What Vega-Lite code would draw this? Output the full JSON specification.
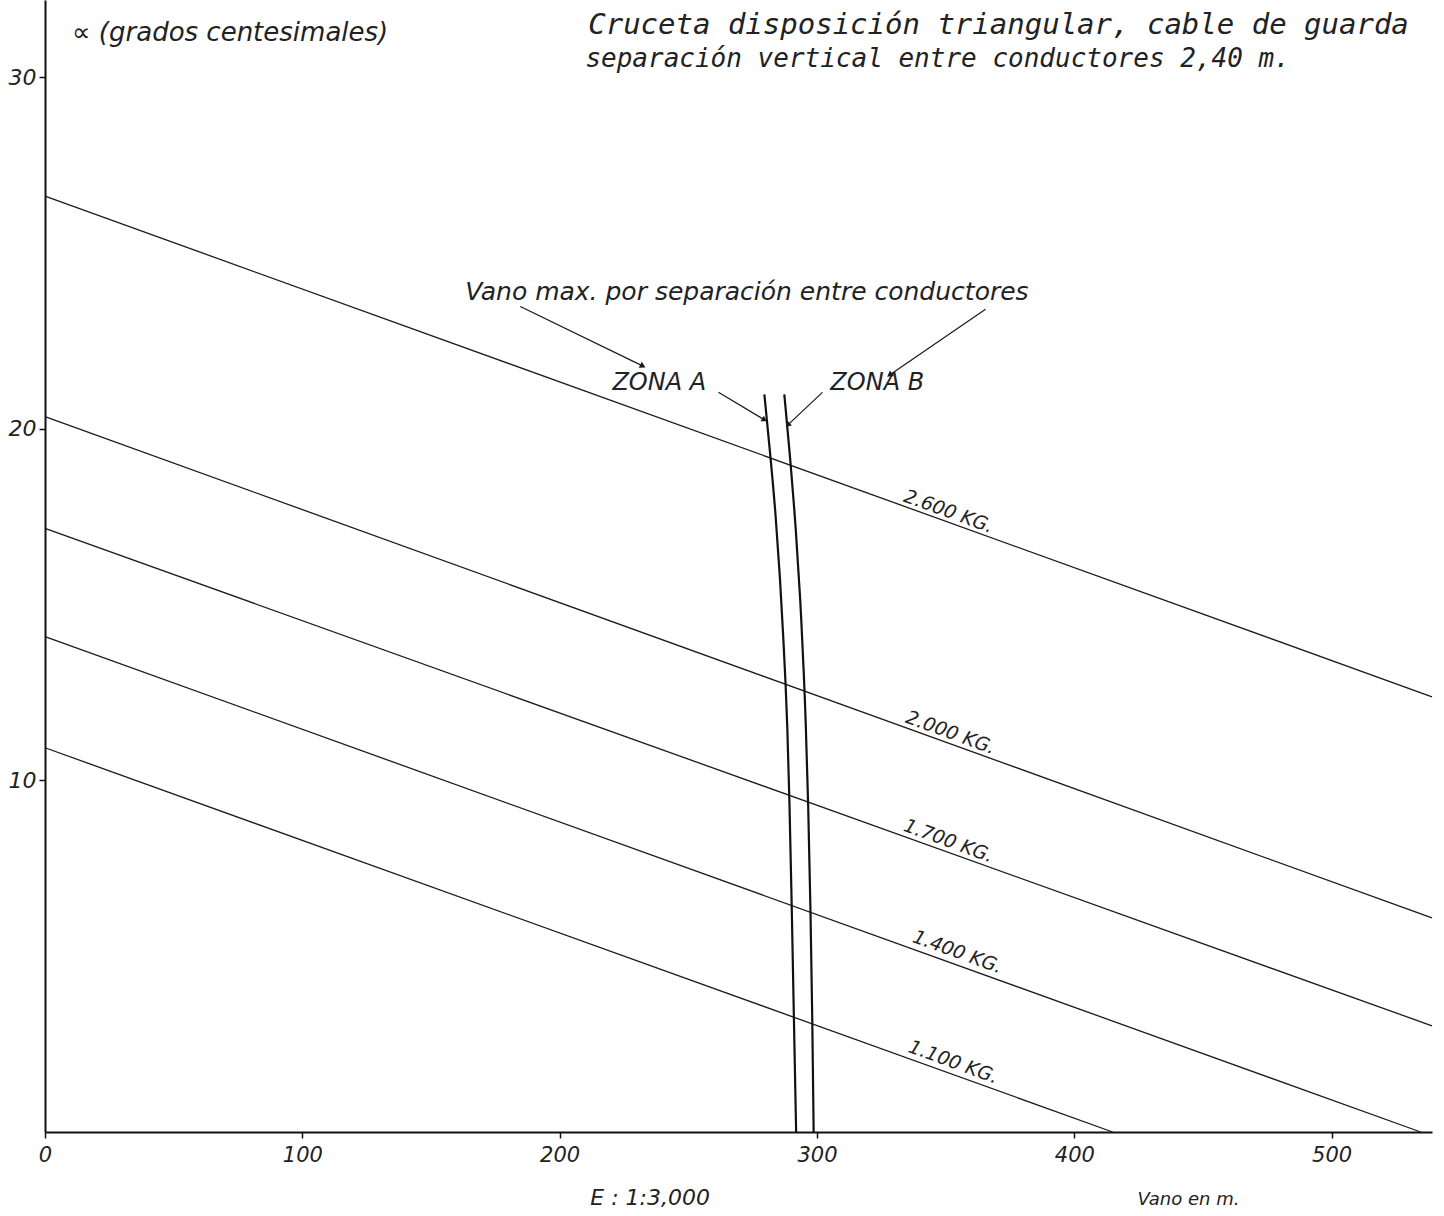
{
  "$schema": "https://vega.github.io/schema/vega-lite/v6.json",
  "width": 1387,
  "height": 1132,
  "autosize": {"type": "none"},
  "padding": {"left": 45, "top": 0, "right": 12, "bottom": 84},
  "background": "white",
  "config": {"view": {"stroke": null}, "font": "DejaVu Sans"},
  "datasets": {
    "curves": [
      {"s": "2600", "k": "kg", "o": 0, "x": 0, "a": 26.62},
      {"s": "2600", "k": "kg", "o": 1, "x": 539, "a": 12.38},
      {"s": "2000", "k": "kg", "o": 0, "x": 0, "a": 20.35},
      {"s": "2000", "k": "kg", "o": 1, "x": 539, "a": 6.09},
      {"s": "1700", "k": "kg", "o": 0, "x": 0, "a": 17.17},
      {"s": "1700", "k": "kg", "o": 1, "x": 539, "a": 3.02},
      {"s": "1400", "k": "kg", "o": 0, "x": 0, "a": 14.09},
      {"s": "1400", "k": "kg", "o": 1, "x": 534.6, "a": 0},
      {"s": "1100", "k": "kg", "o": 0, "x": 0, "a": 10.93},
      {"s": "1100", "k": "kg", "o": 1, "x": 414.9, "a": 0},
      {"s": "A", "k": "zona", "o": 0, "x": 279.55, "a": 20.98},
      {"s": "A", "k": "zona", "o": 1, "x": 282.0, "a": 19.16},
      {"s": "A", "k": "zona", "o": 2, "x": 283.9, "a": 17.62},
      {"s": "A", "k": "zona", "o": 3, "x": 285.7, "a": 15.71},
      {"s": "A", "k": "zona", "o": 4, "x": 287.1, "a": 13.81},
      {"s": "A", "k": "zona", "o": 5, "x": 287.8, "a": 12.75},
      {"s": "A", "k": "zona", "o": 6, "x": 288.4, "a": 11.73},
      {"s": "A", "k": "zona", "o": 7, "x": 289.3, "a": 9.51},
      {"s": "A", "k": "zona", "o": 8, "x": 290.2, "a": 6.4},
      {"s": "A", "k": "zona", "o": 9, "x": 291.0, "a": 3.33},
      {"s": "A", "k": "zona", "o": 10, "x": 291.9, "a": 0},
      {"s": "B", "k": "zona", "o": 0, "x": 287.3, "a": 20.98},
      {"s": "B", "k": "zona", "o": 1, "x": 289.9, "a": 18.93},
      {"s": "B", "k": "zona", "o": 2, "x": 291.8, "a": 17.14},
      {"s": "B", "k": "zona", "o": 3, "x": 293.5, "a": 15.23},
      {"s": "B", "k": "zona", "o": 4, "x": 295.0, "a": 12.87},
      {"s": "B", "k": "zona", "o": 5, "x": 295.6, "a": 11.73},
      {"s": "B", "k": "zona", "o": 6, "x": 296.6, "a": 9.37},
      {"s": "B", "k": "zona", "o": 7, "x": 297.5, "a": 6.32},
      {"s": "B", "k": "zona", "o": 8, "x": 298.2, "a": 3.19},
      {"s": "B", "k": "zona", "o": 9, "x": 298.7, "a": 0}
    ],
    "arrows": [
      {"id": 1, "x": 184.7, "a": 23.48, "x2": 232.0, "a2": 21.8},
      {"id": 2, "x": 365.5, "a": 23.4, "x2": 328.5, "a2": 21.55},
      {"id": 3, "x": 261.7, "a": 21.04, "x2": 279.3, "a2": 20.27},
      {"id": 4, "x": 302.1, "a": 21.04, "x2": 288.9, "a2": 20.13}
    ],
    "texts": [
      {"g": "kg", "text": "2.600 KG.", "x": 351.1, "a": 17.65},
      {"g": "kg", "text": "2.000 KG.", "x": 351.9, "a": 11.36},
      {"g": "kg", "text": "1.700 KG.", "x": 351.1, "a": 8.28},
      {"g": "kg", "text": "1.400 KG.", "x": 354.6, "a": 5.12},
      {"g": "kg", "text": "1.100 KG.", "x": 353.0, "a": 1.99},
      {"g": "title1", "text": "Cruceta disposición triangular, cable de guarda", "x": 211.1, "a": 31.23},
      {"g": "title2", "text": "separación vertical entre conductores 2,40 m.", "x": 210.0, "a": 30.29},
      {"g": "ytitle", "text": "∝ (grados centesimales)", "x": 10.5, "a": 31.03},
      {"g": "note", "text": "Vano max.  por  separación entre conductores", "x": 163.3, "a": 23.68},
      {"g": "zona", "text": "ZONA A", "x": 220.5, "a": 21.1},
      {"g": "zona", "text": "ZONA B", "x": 305.2, "a": 21.1},
      {"g": "foot1", "text": "E : 1:3,000", "x": 211.9, "a": -2.08},
      {"g": "foot2", "text": "Vano en m.", "x": 424.6, "a": -2.08}
    ]
  },
  "encoding": {
    "x": {
      "field": "x", "type": "quantitative", "title": null,
      "scale": {"domain": [0, 539], "nice": false, "zero": false},
      "axis": {
        "values": [0, 100, 200, 300, 400, 500], "grid": false,
        "domainColor": "#111", "domainWidth": 2,
        "tickColor": "#111", "tickSize": 6, "tickWidth": 1.5,
        "labelFont": "DejaVu Sans", "labelFontStyle": "italic", "labelFontSize": 21,
        "labelColor": "#222", "labelPadding": 6, "labelFlush": false
      }
    },
    "y": {
      "field": "a", "type": "quantitative", "title": null,
      "scale": {"domain": [0, 32.2], "nice": false, "zero": false},
      "axis": {
        "values": [10, 20, 30], "grid": false,
        "domainColor": "#111", "domainWidth": 2,
        "tickColor": "#111", "tickSize": 6, "tickWidth": 1.5,
        "labelFont": "DejaVu Sans", "labelFontStyle": "italic", "labelFontSize": 22,
        "labelColor": "#222", "labelPadding": 3
      }
    }
  },
  "layer": [
    {
      "data": {"name": "curves"},
      "transform": [{"filter": "datum.k === 'kg'"}],
      "mark": {"type": "line", "color": "#1a1a1a", "strokeWidth": 1.3},
      "encoding": {"detail": {"field": "s"}, "order": {"field": "o", "type": "quantitative"}}
    },
    {
      "data": {"name": "curves"},
      "transform": [{"filter": "datum.k === 'zona'"}],
      "mark": {"type": "line", "color": "#111", "strokeWidth": 2.2, "interpolate": "basis"},
      "encoding": {"detail": {"field": "s"}, "order": {"field": "o", "type": "quantitative"}}
    },
    {
      "data": {"name": "arrows"},
      "mark": {"type": "rule", "color": "#1a1a1a", "strokeWidth": 1.2},
      "encoding": {"x2": {"field": "x2"}, "y2": {"field": "a2"}}
    },
    {
      "data": {"name": "arrows"},
      "transform": [{"filter": "datum.id === 1"}],
      "mark": {"type": "point", "shape": "triangle", "filled": true, "opacity": 1, "color": "#1a1a1a", "size": 45, "angle": 117.5},
      "encoding": {"x": {"field": "x2", "type": "quantitative"}, "y": {"field": "a2", "type": "quantitative"}}
    },
    {
      "data": {"name": "arrows"},
      "transform": [{"filter": "datum.id === 2"}],
      "mark": {"type": "point", "shape": "triangle", "filled": true, "opacity": 1, "color": "#1a1a1a", "size": 45, "angle": 234.4},
      "encoding": {"x": {"field": "x2", "type": "quantitative"}, "y": {"field": "a2", "type": "quantitative"}}
    },
    {
      "data": {"name": "arrows"},
      "transform": [{"filter": "datum.id === 3"}],
      "mark": {"type": "point", "shape": "triangle", "filled": true, "opacity": 1, "color": "#1a1a1a", "size": 40, "angle": 121.6},
      "encoding": {"x": {"field": "x2", "type": "quantitative"}, "y": {"field": "a2", "type": "quantitative"}}
    },
    {
      "data": {"name": "arrows"},
      "transform": [{"filter": "datum.id === 4"}],
      "mark": {"type": "point", "shape": "triangle", "filled": true, "opacity": 1, "color": "#1a1a1a", "size": 40, "angle": 226.8},
      "encoding": {"x": {"field": "x2", "type": "quantitative"}, "y": {"field": "a2", "type": "quantitative"}}
    },
    {
      "data": {"name": "texts"},
      "transform": [{"filter": "datum.g === 'kg'"}],
      "mark": {"type": "text", "angle": 20, "fontSize": 19, "fontStyle": "italic", "color": "#222", "align": "center", "baseline": "middle"},
      "encoding": {"text": {"field": "text"}}
    },
    {
      "data": {"name": "texts"},
      "transform": [{"filter": "datum.g === 'title1'"}],
      "mark": {"type": "text", "font": "DejaVu Sans Mono", "fontSize": 29, "fontStyle": "italic", "color": "#222", "align": "left", "baseline": "alphabetic"},
      "encoding": {"text": {"field": "text"}}
    },
    {
      "data": {"name": "texts"},
      "transform": [{"filter": "datum.g === 'title2'"}],
      "mark": {"type": "text", "font": "DejaVu Sans Mono", "fontSize": 26, "fontStyle": "italic", "color": "#222", "align": "left", "baseline": "alphabetic"},
      "encoding": {"text": {"field": "text"}}
    },
    {
      "data": {"name": "texts"},
      "transform": [{"filter": "datum.g === 'ytitle'"}],
      "mark": {"type": "text", "fontSize": 26, "fontStyle": "italic", "color": "#222", "align": "left", "baseline": "alphabetic"},
      "encoding": {"text": {"field": "text"}}
    },
    {
      "data": {"name": "texts"},
      "transform": [{"filter": "datum.g === 'note'"}],
      "mark": {"type": "text", "fontSize": 25, "fontStyle": "italic", "color": "#222", "align": "left", "baseline": "alphabetic"},
      "encoding": {"text": {"field": "text"}}
    },
    {
      "data": {"name": "texts"},
      "transform": [{"filter": "datum.g === 'zona'"}],
      "mark": {"type": "text", "fontSize": 24, "fontStyle": "italic", "color": "#222", "align": "left", "baseline": "alphabetic"},
      "encoding": {"text": {"field": "text"}}
    },
    {
      "data": {"name": "texts"},
      "transform": [{"filter": "datum.g === 'foot1'"}],
      "mark": {"type": "text", "fontSize": 22, "fontStyle": "italic", "color": "#222", "align": "left", "baseline": "alphabetic"},
      "encoding": {"text": {"field": "text"}}
    },
    {
      "data": {"name": "texts"},
      "transform": [{"filter": "datum.g === 'foot2'"}],
      "mark": {"type": "text", "fontSize": 18, "fontStyle": "italic", "color": "#222", "align": "left", "baseline": "alphabetic"},
      "encoding": {"text": {"field": "text"}}
    }
  ]
}
